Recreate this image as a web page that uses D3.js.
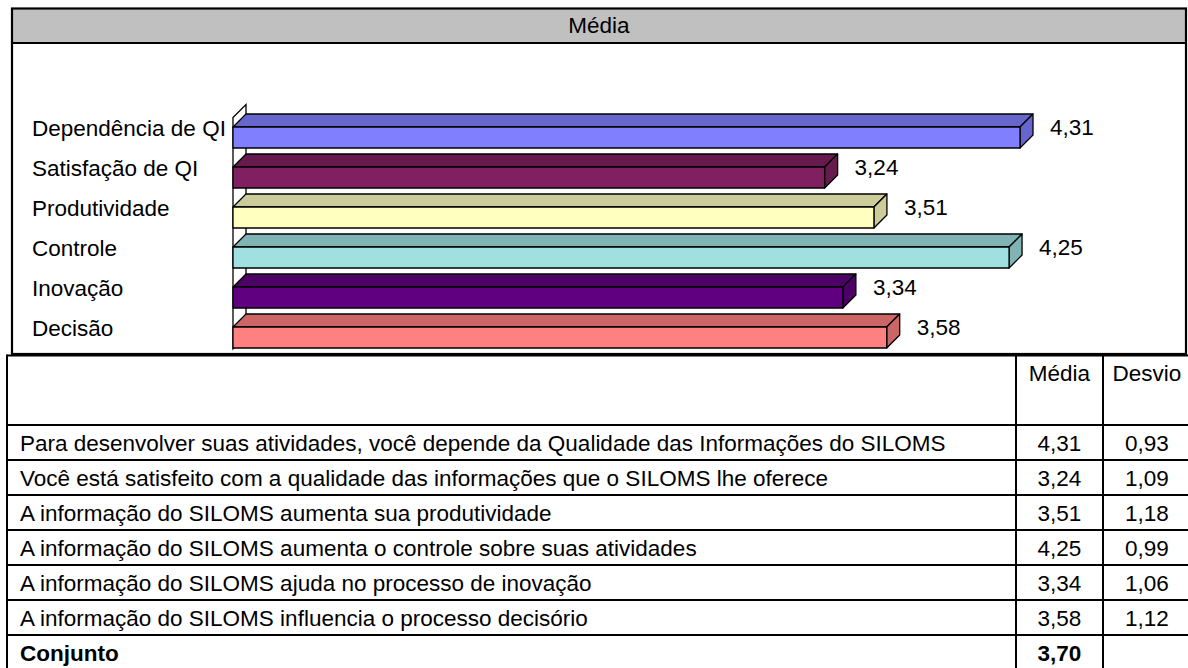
<!DOCTYPE html>
<html>
<head>
<meta charset="utf-8">
<script src="https://cdn.jsdelivr.net/npm/d3@7"></script>
<style>
  body { margin: 0; background: #fff; }
  text { font-family: "Liberation Sans", Arial, Helvetica, sans-serif; fill: #000; }
</style>
</head>
<body>
<div id="my_dataviz"></div>
<script>
// chart data
var title = "Média";
var categories = ["Dependência de QI", "Satisfação de QI", "Produtividade", "Controle", "Inovação", "Decisão"];
var medias = [4.31, 3.24, 3.51, 4.25, 3.34, 3.58];
var desvios = [0.93, 1.09, 1.18, 0.99, 1.06, 1.12];
var questions = [
    "Para desenvolver suas atividades, você depende da Qualidade das Informações do SILOMS",
    "Você está satisfeito com a qualidade das informações que o SILOMS lhe oferece",
    "A informação do SILOMS aumenta sua produtividade",
    "A informação do SILOMS aumenta o controle sobre suas atividades",
    "A informação do SILOMS ajuda no processo de inovação",
    "A informação do SILOMS influencia o processo decisório"
];
var tableHeaders = ["Média", "Desvio"];
var totalLabel = "Conjunto";
var totalMedia = 3.70;

// bar colours (front face / top+side face)
var frontPalette = ["#8080ff", "#802060", "#ffffc0", "#a0e0e0", "#600080", "#ff8080"];
var topPalette = ["#6666cc", "#661a4d", "#cccc9a", "#80b3b3", "#4d0066", "#cc6666"];

var W = 1188, H = 668, fontSize = 22.5;
var depth = 13; // 3d offset

var fmt = d3.formatLocale({decimal: ",", thousands: ".", grouping: [3], currency: ["R$", ""]}).format(".2f");

var svg = d3.select("#my_dataviz")
    .append("svg")
    .attr("width", W)
    .attr("height", H);

// ---------- chart box ----------
var box = {x: 12, y: 8.5, w: 1174, h: 345.5, head: 34.5};
svg.append("rect")
    .attr("x", box.x).attr("y", box.y)
    .attr("width", box.w).attr("height", box.head)
    .style("fill", "#c0c0c0");
svg.append("line")
    .attr("x1", box.x).attr("x2", box.x + box.w)
    .attr("y1", box.y + box.head).attr("y2", box.y + box.head)
    .style("stroke", "#000").style("stroke-width", 2);
svg.append("rect")
    .attr("x", box.x).attr("y", box.y)
    .attr("width", box.w).attr("height", box.h)
    .style("fill", "none").style("stroke", "#000").style("stroke-width", 2.2);
svg.append("text")
    .attr("x", box.x + box.w / 2)
    .attr("y", box.y + box.head / 2 + 7.5)
    .style("text-anchor", "middle")
    .style("font-size", fontSize + "px")
    .text(title);

// scales
var x = d3.scaleLinear()
    .domain([0, 5])
    .range([233, 233 + 5 * 182.6]);

var y = d3.scaleBand()
    .domain(categories)
    .range([117.5, 357.5])
    .paddingInner(0.475)
    .paddingOuter(0.2375);

var front = d3.scaleOrdinal(categories, frontPalette);
var topc = d3.scaleOrdinal(categories, topPalette);

// left wall
var wallTop = y.range()[0],
    wallBot = y(categories[categories.length - 1]) + y.bandwidth() + 1;
svg.append("polygon")
    .attr("points", [
        [x(0), wallTop], [x(0) + depth, wallTop - depth],
        [x(0) + depth, wallBot - depth], [x(0), wallBot]
    ].join(" "))
    .style("fill", "#fff").style("stroke", "#000").style("stroke-width", 1.3);

// bars
var bars = svg.selectAll(".bar")
    .data(categories.map(function(c, i) { return {cat: c, value: medias[i]}; }))
    .enter()
    .append("g")
    .attr("class", "bar");

bars.append("polygon") // top face
    .attr("points", function(d) {
        var y0 = y(d.cat), x0 = x(0), x1 = x(d.value);
        return [[x0, y0], [x0 + depth, y0 - depth], [x1 + depth, y0 - depth], [x1, y0]].join(" ");
    })
    .style("fill", function(d) { return topc(d.cat); });

bars.append("polygon") // side face
    .attr("points", function(d) {
        var y0 = y(d.cat), y1 = y0 + y.bandwidth(), x1 = x(d.value);
        return [[x1, y0], [x1 + depth, y0 - depth], [x1 + depth, y1 - depth], [x1, y1]].join(" ");
    })
    .style("fill", function(d) { return topc(d.cat); });

bars.append("rect") // front face
    .attr("x", x(0))
    .attr("y", function(d) { return y(d.cat); })
    .attr("width", function(d) { return x(d.value) - x(0); })
    .attr("height", y.bandwidth())
    .style("fill", function(d) { return front(d.cat); });

bars.selectAll("polygon, rect")
    .style("stroke", "#000")
    .style("stroke-width", 1.3)
    .style("stroke-linejoin", "round");

// value labels
bars.append("text")
    .attr("x", function(d) { return x(d.value) + depth + 17; })
    .attr("y", function(d) { return y(d.cat) + 8; })
    .style("font-size", fontSize + "px")
    .text(function(d) { return fmt(d.value); });

// category labels
svg.selectAll(".cat")
    .data(categories)
    .enter()
    .append("text")
    .attr("class", "cat")
    .attr("x", 32)
    .attr("y", function(d) { return y(d) + 9; })
    .style("font-size", fontSize + "px")
    .text(function(d) { return d; });

// ---------- table ----------
var cols = [7, 1016, 1103, 1191];
var tTop = 355.5, headH = 69.5, rowH = 35;
var nRows = questions.length + 1;
var rowY = function(i) { return tTop + headH + i * rowH; };
var tBot = rowY(nRows);

var tbl = svg.append("g").attr("class", "table");

// horizontal rules
var hs = [tTop].concat(d3.range(nRows + 1).map(rowY));
tbl.selectAll(".hl")
    .data(hs)
    .enter()
    .append("line")
    .attr("x1", cols[0]).attr("x2", cols[3])
    .attr("y1", function(d) { return d; }).attr("y2", function(d) { return d; })
    .style("stroke", "#000").style("stroke-width", 2);

// vertical rules
tbl.selectAll(".vl")
    .data(cols)
    .enter()
    .append("line")
    .attr("x1", function(d) { return d; }).attr("x2", function(d) { return d; })
    .attr("y1", tTop - 1).attr("y2", tBot + 1)
    .style("stroke", "#000").style("stroke-width", 2);

// header
tbl.selectAll(".th")
    .data(tableHeaders)
    .enter()
    .append("text")
    .attr("x", function(d, i) { return (cols[i + 1] + cols[i + 2]) / 2; })
    .attr("y", tTop + 25.5)
    .style("text-anchor", "middle")
    .style("font-size", fontSize + "px")
    .text(function(d) { return d; });

// body rows
var rows = tbl.selectAll(".row")
    .data(questions.map(function(q, i) { return {q: q, m: medias[i], s: desvios[i]}; }))
    .enter()
    .append("g")
    .attr("transform", function(d, i) { return "translate(0," + (rowY(i) + rowH / 2 + 8) + ")"; })
    .style("font-size", fontSize + "px");

rows.append("text").attr("x", 20).text(function(d) { return d.q; });
rows.append("text")
    .attr("x", (cols[1] + cols[2]) / 2)
    .style("text-anchor", "middle")
    .text(function(d) { return fmt(d.m); });
rows.append("text")
    .attr("x", (cols[2] + cols[3]) / 2)
    .style("text-anchor", "middle")
    .text(function(d) { return fmt(d.s); });

// total row
var tot = tbl.append("g")
    .attr("transform", "translate(0," + (rowY(questions.length) + rowH / 2 + 8) + ")")
    .style("font-size", fontSize + "px")
    .style("font-weight", "bold");
tot.append("text").attr("x", 20).text(totalLabel);
tot.append("text")
    .attr("x", (cols[1] + cols[2]) / 2)
    .style("text-anchor", "middle")
    .text(fmt(totalMedia));
</script>
</body>
</html>
